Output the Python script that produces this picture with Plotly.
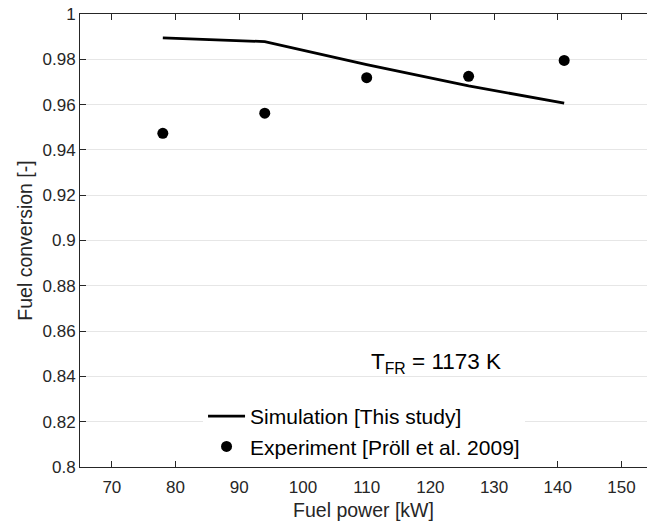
import plotly.graph_objects as go

# ---- data ----
sim_power = [78, 94, 110, 126, 141]
sim_conversion = [0.9895, 0.9878, 0.9777, 0.9683, 0.9606]

exp_power = [78, 94, 110, 126, 141]
exp_conversion = [0.9473, 0.9562, 0.9719, 0.9725, 0.9795]

x_ticks = [70, 80, 90, 100, 110, 120, 130, 140, 150]
y_ticks = [0.8, 0.82, 0.84, 0.86, 0.88, 0.9, 0.92, 0.94, 0.96, 0.98, 1.0]
y_tick_labels = ["0.8", "0.82", "0.84", "0.86", "0.88", "0.9", "0.92", "0.94", "0.96", "0.98", "1"]

AX = "#262626"
FONT = "Arial, Liberation Sans, Helvetica, sans-serif"

fig = go.Figure()
fig.add_trace(go.Scatter(
    x=sim_power, y=sim_conversion, mode="lines",
    line=dict(color="black", width=2.8),
    name="Simulation [This study]",
))
fig.add_trace(go.Scatter(
    x=exp_power, y=exp_conversion, mode="markers",
    marker=dict(color="black", size=11),
    name="Experiment [Pröll et al. 2009]",
))

fig.add_annotation(
    x=110.3, y=0.8459, xref="x", yref="y",
    text="T<sub>FR</sub> = 1173 K", showarrow=False,
    xanchor="left", yanchor="middle",
    font=dict(family=FONT, size=22.5, color="black"),
)

fig.update_layout(
    width=647, height=527,
    margin=dict(l=80, r=0, t=14, b=60, autoexpand=False),
    paper_bgcolor="white", plot_bgcolor="white",
    font=dict(family=FONT, color=AX),
    showlegend=True,
    legend=dict(
        x=0.217, y=0.0, xanchor="left", yanchor="bottom",
        bgcolor="white", borderwidth=0,
        font=dict(family=FONT, size=21, color="black"),
        itemwidth=37,
    ),
)

fig.update_xaxes(
    range=[65, 154.0], tickvals=x_ticks, automargin=False,
    ticks="inside", ticklen=6, tickcolor=AX, tickwidth=1,
    showline=True, linecolor=AX, linewidth=1, mirror="ticks",
    showgrid=False, zeroline=False, ticklabeloverflow="allow",
    ticklabelstandoff=5,
    tickfont=dict(size=17, color=AX),
    title=dict(text="Fuel power [kW]", font=dict(size=19.5, color=AX), standoff=6),
)
fig.update_yaxes(
    range=[0.8, 1.0], tickvals=y_ticks, ticktext=y_tick_labels, automargin=False,
    ticks="inside", ticklen=6, tickcolor=AX, tickwidth=1,
    showline=True, linecolor=AX, linewidth=1, mirror=False,
    showgrid=True, gridcolor="#e6e6e6", gridwidth=1, zeroline=False,
    ticklabeloverflow="allow",
    tickfont=dict(size=17, color=AX),
    title=dict(text="Fuel conversion [-]", font=dict(size=19.5, color=AX), standoff=4),
)

fig.write_html(
    "out.html",
    config={"displayModeBar": False},
    post_script="document.body.style.margin='0';document.body.style.overflow='hidden';",
)
